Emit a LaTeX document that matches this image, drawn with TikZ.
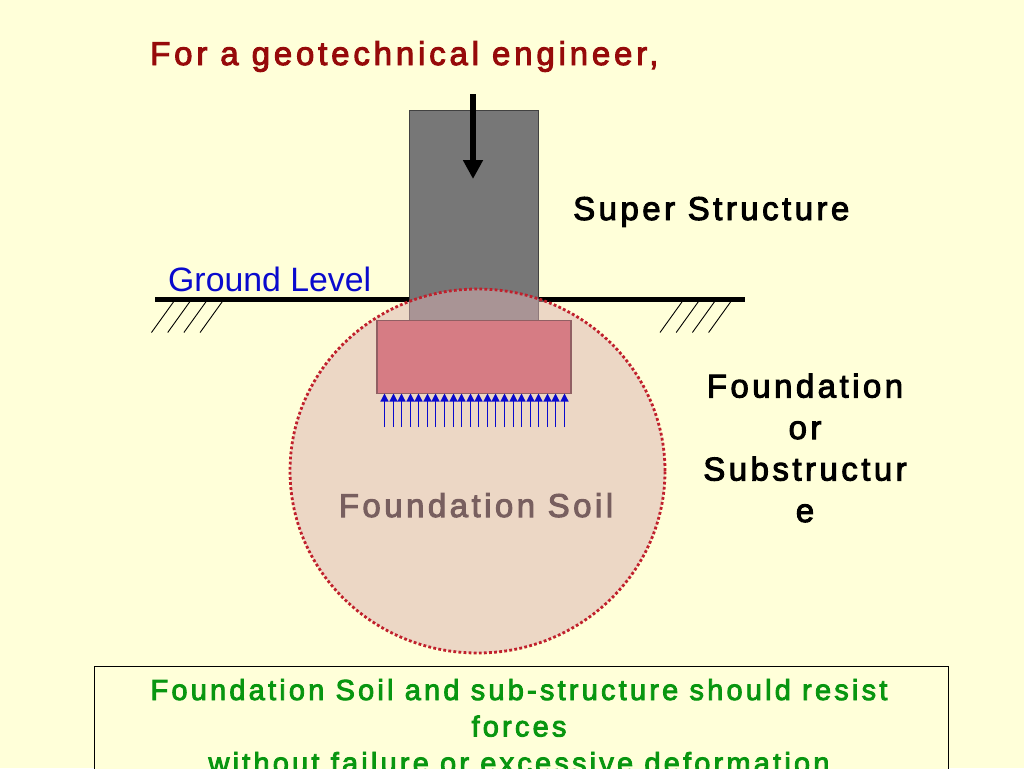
\documentclass[tikz,border=0pt]{standalone}
\usepackage{fontspec}
\setmainfont{Liberation Sans}
\newfontfamily\spaced[LetterSpace=10.5,FakeBold=3]{Liberation Sans}
\newfontfamily\spacedt[LetterSpace=11.6,FakeBold=3]{Liberation Sans}
\newfontfamily\spacedb[LetterSpace=11,FakeBold=3]{Liberation Sans}
\definecolor{bgc}{RGB}{255,255,217}
\definecolor{colc}{RGB}{119,119,119}
\definecolor{footc}{RGB}{214,124,132}
\definecolor{soilc}{RGB}{219,177,179}
\definecolor{dotc}{RGB}{192,32,44}
\definecolor{titlec}{RGB}{150,10,10}
\definecolor{bluec}{RGB}{10,10,205}
\definecolor{greenc}{RGB}{8,150,16}
\definecolor{soiltxt}{RGB}{120,95,95}
\usetikzlibrary{arrows.meta,shapes.geometric}
\tikzset{
  lab/.style={font=\spaced\fontsize{33}{41.5}\selectfont,inner sep=0pt,align=center,text=black},
  hatchline/.style={draw=black,line width=0.9pt},
  uparrow/.style={draw=bluec,line width=1.2pt,-{Triangle[length=8pt,width=8pt]}},
  groundline/.style={draw=black,line width=4.2pt}
}
\begin{document}
\begin{tikzpicture}[x=1pt,y=-1pt]
\useasboundingbox (0,0) rectangle (1024,768);
\clip (0,0) rectangle (1024,768);
\fill[bgc] (0,0) rectangle (1024,768);
% ground
\coordinate (gl) at (155,299.5); \coordinate (gr) at (745,299.5);
\draw[groundline] (gl) -- (gr);
% column
\node[draw=black!45!colc,line width=1pt,fill=colc,minimum width=129pt,minimum height=215pt,inner sep=0pt] (column) at (473.5,218) {};
% soil
\node[ellipse,fill=soilc,fill opacity=.5,minimum width=375pt,minimum height=364pt,inner sep=0pt] (soil) at (477.5,471) {};
\node[ellipse,draw=dotc,line width=2.8pt,dash pattern=on 2.8pt off 2.3pt,minimum width=375pt,minimum height=364pt,inner sep=0pt] (soilrim) at (477.5,471) {};
% footing
\node[draw=black!30!footc!80!gray,line width=1.2pt,fill=footc,minimum width=194pt,minimum height=73pt,inner sep=0pt] (footing) at (474,357) {};
% hatching
\foreach \i/\x in {0/0,1/16.2,2/32.4,3/48.6}{
  \coordinate (ha\i) at ({174.5+\x},300.5); \coordinate (hb\i) at ({151.5+\x},332.5);
  \draw[hatchline] (ha\i) -- (hb\i);
  \coordinate (hc\i) at ({683+\x},300.5); \coordinate (hd\i) at ({660+\x},332.5);
  \draw[hatchline] (hc\i) -- (hd\i);
}
% reaction arrows
\foreach \i in {0,...,21}{
  \pgfmathsetmacro{\ax}{round(384+\i*8.57)+0.5}
  \coordinate (ub\i) at (\ax,427); \coordinate (ut\i) at (\ax,393.5);
  \draw[uparrow] (ub\i) -- (ut\i);
}
% load arrow
\coordinate (la) at (473,94); \coordinate (lb) at (473,179);
\draw[draw=black,line width=5.6pt,-{Triangle[length=19pt,width=19pt]}] (la) -- (lb);
% texts
\node[lab,text=titlec,font=\spacedt\fontsize{33}{41.5}\selectfont,anchor=base west] (title) at (150,65) {For a geotechnical engineer,};
\node[lab,anchor=base west] (super) at (573,220) {Super Structure};
\node[anchor=base west,inner sep=0pt,text=bluec,font=\fontsize{33.8}{40}\selectfont] (ground) at (168,291) {Ground Level};
\node[lab,anchor=base] (found) at (805,522) {Foundation\\or\\Substructur\\e};
\node[lab,text=soiltxt,anchor=base] (soiltext) at (476,517) {Foundation Soil};
% bottom box
\node[draw=black,line width=1pt,fill=bgc,minimum width=854pt,minimum height=160pt,anchor=north west,inner sep=0pt] (box) at (94,665.5) {};
\node[lab,text=greenc,font=\spacedb\fontsize{29}{36.5}\selectfont,anchor=base] (boxtext) at (519,773) {Foundation Soil and sub-structure should resist\\forces\\without failure or excessive deformation};
\end{tikzpicture}
\end{document}
